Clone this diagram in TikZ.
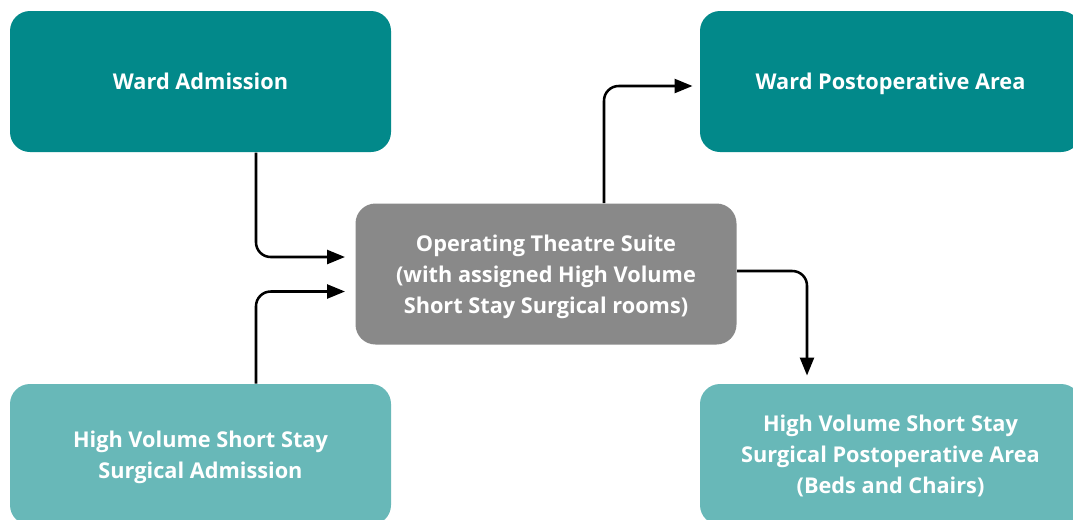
\documentclass[tikz,border=0pt]{standalone}
\usepackage{fontspec}
\setmainfont{Open Sans}
\usetikzlibrary{arrows.meta,calc}

\definecolor{wardteal}{HTML}{02898A}
\definecolor{suitegray}{HTML}{898989}
\definecolor{hvteal}{HTML}{68B8B8}

\tikzset{every picture/.style={line width=0.75pt}}
\tikzset{
  area/.style={rounded corners=15pt, minimum width=285.75pt, minimum height=105.75pt,
    text=white, font=\bfseries\fontsize{16.3}{23.4}\selectfont, align=center, inner sep=0pt,
    text depth=0pt},
  flow/.style={line width=1.9pt, rounded corners=11pt, -{Triangle[length=13.5pt,width=10.5pt]}}
}

\begin{document}
\begin{tikzpicture}[x=0.75pt,y=0.75pt,yscale=-1,xscale=1]

\useasboundingbox (0,0) rectangle (1073,519);
\clip (0,0) rectangle (1073,519);

\node [area, fill=wardteal]  (wardAdm)  at (200.5,81.5)  {Ward Admission};
\node [area, fill=wardteal]  (wardPost) at (890.5,81.5)  {Ward Postoperative Area};
\node [area, fill=suitegray] (suite)    at (546,274)     {Operating Theatre Suite\\(with assigned High Volume\\Short Stay Surgical rooms)};
\node [area, fill=hvteal]    (hvAdm)    at (200.5,454.5) {High Volume Short Stay\\Surgical Admission};
\node [area, fill=hvteal]    (hvPost)   at (890.5,454.5) {High Volume Short Stay\\Surgical Postoperative Area\\(Beds and Chairs)};

\draw [flow] ([shift={(55.5,0)}]wardAdm.south) |- ([shift={(-10,-17)}]suite.west) ;
\draw [flow] ([shift={(55.5,0)}]hvAdm.north) |- ([shift={(-10,17.5)}]suite.west) ;
\draw [flow] ([shift={(58,0)}]suite.north) |- ([shift={(-7,4.5)}]wardPost.west) ;
\draw [flow] ([shift={(0,-3)}]suite.east) -| ([shift={(-83.5,-8)}]hvPost.north) ;

\end{tikzpicture}
\end{document}
